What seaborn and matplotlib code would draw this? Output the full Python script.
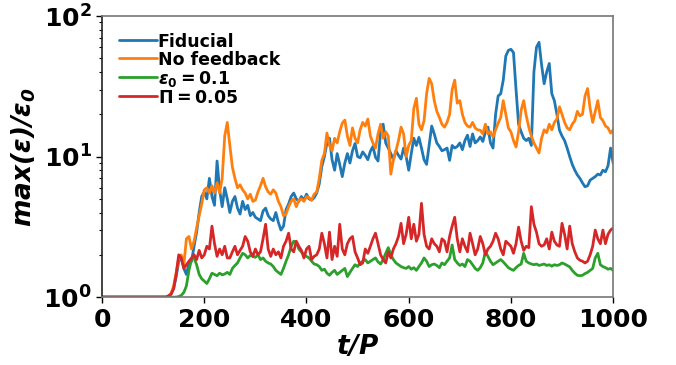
import numpy as np
import pandas as pd
import matplotlib
matplotlib.use("Agg")
import matplotlib.pyplot as plt
import seaborn as sns

# Time grid in orbital periods
t_quiet = [0, 5, 10, 15, 20, 25, 30, 35, 40, 45, 50, 55, 60, 65, 70, 75, 80, 85,
           90, 95, 100, 105, 110, 115, 120, 125]
t_active = list(range(130, 1001, 5))
t_over_p = t_quiet + t_active

quiet = [1.0] * len(t_quiet)

fiducial = quiet + [
    1.02, 1.05, 1.15, 1.4, 1.8, 1.9, 1.6, 1.45, 1.75, 1.8,
    2.3, 2.9, 4.0, 5.2, 5.6, 5.0, 7.0, 5.2, 4.5, 9.3,
    5.8, 4.4, 6.0, 5.0, 4.0, 4.8, 5.2, 4.3, 3.9, 4.8,
    4.2, 4.5, 3.8, 4.0, 3.7, 3.6, 3.5, 4.1, 4.3, 3.8,
    3.6, 3.5, 4.0, 3.4, 3.0, 3.2, 4.2, 4.6, 5.2, 5.5,
    5.0, 4.8, 5.2, 4.9, 5.4, 5.0, 4.9, 5.1, 5.5, 6.4,
    8.5, 10.0, 12.5, 13.5, 9.5, 8.0, 10.5, 8.8, 7.2, 9.0,
    10.5, 9.0, 11.0, 12.4, 10.0, 9.8, 10.8, 10.2, 9.5, 10.9,
    11.8, 9.9, 9.3, 15.0, 17.0, 12.5, 11.5, 10.5, 9.5, 11.0,
    10.2, 9.6, 11.5, 10.0, 8.0, 10.5, 13.5, 12.0, 13.7, 11.5,
    9.5, 8.8, 12.0, 16.5, 14.5, 12.5, 11.8, 11.0, 11.2, 11.5,
    9.4, 12.0, 11.5, 11.8, 12.5, 11.2, 13.0, 14.2, 11.8, 14.5,
    12.5, 13.0, 13.8, 12.8, 15.0, 16.2, 12.5, 11.5, 20.0, 27.0,
    28.0, 35.0, 52.0, 57.0, 58.0, 55.0, 30.0, 17.0, 15.0, 13.5,
    13.0, 13.5, 12.0, 40.0, 60.0, 65.0, 45.0, 33.0, 40.0, 46.0,
    28.0, 25.0, 20.0, 15.4, 14.0, 13.0, 11.5, 10.0, 8.8, 8.0,
    7.4, 7.0, 6.5, 6.1, 6.2, 6.8, 7.0, 7.2, 7.5, 7.4,
    8.0, 7.8, 8.6, 11.5, 9.0,
]

no_feedback = quiet + [
    1.02, 1.06, 1.2, 1.5, 1.9, 2.0, 1.7, 2.6, 2.7, 2.2,
    2.5, 3.1, 3.8, 4.6, 5.8, 6.0, 5.5, 6.2, 5.5, 6.5,
    5.5, 7.0, 14.0, 17.5, 12.0, 8.4, 7.0, 6.0, 6.3, 5.8,
    5.5, 5.0, 5.4, 4.8, 4.9, 5.6, 6.2, 7.0, 6.1, 5.6,
    5.4, 5.8, 5.5, 4.8, 4.4, 3.8, 3.9, 4.4, 4.8, 5.0,
    4.4, 4.9, 5.0, 4.8, 5.2, 5.1, 4.9, 5.4, 5.6, 7.0,
    9.4, 10.5, 14.7, 12.0, 11.0, 13.5, 12.5, 15.0, 17.3, 18.2,
    14.0, 12.0, 16.0, 13.5, 12.5, 15.5, 17.5, 16.5, 18.5, 14.0,
    12.5, 11.5, 14.5, 17.0, 13.5, 15.0, 14.0, 7.5, 9.5, 11.0,
    13.0, 16.2, 14.5, 10.0, 12.0, 13.0, 22.0, 26.0, 17.0, 15.5,
    18.0, 28.0, 36.0, 33.0, 25.0, 21.0, 19.0, 17.0, 16.2, 17.5,
    20.0, 30.0, 35.0, 24.0, 25.0, 20.0, 17.5, 16.5, 16.2, 17.5,
    16.0, 15.5, 15.4, 14.5, 17.0, 14.5, 15.0, 13.8, 15.5, 17.3,
    19.0, 25.0, 20.0, 16.0, 15.0, 13.0, 11.7, 15.0, 21.4, 25.0,
    19.5, 16.2, 14.0, 12.5, 11.5, 10.6, 13.5, 15.5, 14.8, 17.0,
    15.5, 17.5, 18.5, 22.6, 20.0, 17.5, 16.0, 15.5, 17.0, 18.0,
    21.0, 19.5, 20.0, 27.0, 30.5, 22.0, 17.5, 21.0, 25.0, 19.0,
    18.0, 16.5, 16.0, 14.7, 15.5,
]

eps0_01 = quiet + [
    1.0, 1.0, 1.0, 1.0, 1.01, 1.03, 1.08, 1.2, 1.55, 1.85,
    1.9, 1.7, 1.45, 1.35, 1.3, 1.25, 1.35, 1.48, 1.45, 1.42,
    1.48, 1.44, 1.46, 1.5, 1.45, 1.6, 1.68, 1.75, 1.9, 2.05,
    2.0, 1.9, 1.98, 1.95, 1.92, 2.0, 1.85, 1.9, 1.8, 1.75,
    1.72, 1.65, 1.55, 1.5, 1.45, 1.6, 1.8, 2.0, 2.3, 2.5,
    2.45, 2.2, 2.1, 2.0, 1.95, 1.9, 1.8, 1.72, 1.7, 1.65,
    1.55, 1.58, 1.48, 1.43, 1.5, 1.55, 1.45, 1.5, 1.55, 1.6,
    1.4, 1.5, 1.6, 1.7, 1.65, 1.75, 1.8, 1.85, 1.75, 1.8,
    1.85, 1.9, 1.78, 1.72, 1.85, 2.05, 2.25, 2.0, 1.85, 1.75,
    1.7, 1.65, 1.62, 1.6, 1.65, 1.58, 1.62, 1.55, 1.65, 1.75,
    1.9, 1.8, 1.65, 1.7, 1.72, 1.68, 1.62, 1.75, 1.7, 1.8,
    1.9, 2.35, 1.85, 1.75, 1.68, 1.72, 1.65, 1.85, 1.8, 1.7,
    1.6, 1.55, 1.62, 1.75, 2.1, 1.95, 1.8, 1.7, 1.75, 1.8,
    1.85, 1.78, 1.7, 1.62, 1.58, 1.55, 1.62, 1.68, 1.72, 2.05,
    1.8, 1.75, 1.72, 1.7, 1.72, 1.68, 1.7, 1.72, 1.68, 1.7,
    1.66, 1.7, 1.68, 1.7, 1.75, 1.72, 1.68, 1.64, 1.55, 1.48,
    1.43, 1.42, 1.43, 1.47, 1.5, 1.55, 1.6, 1.9, 2.05, 1.7,
    1.65, 1.62, 1.58, 1.6, 1.55,
]

pi_005 = quiet + [
    1.02, 1.05, 1.15, 1.45, 2.0, 1.9, 1.6, 1.7, 1.8, 1.9,
    2.0, 1.85, 2.15, 1.9, 2.0, 2.3, 2.2, 3.2, 2.4, 1.95,
    2.2, 2.0, 2.3, 1.9, 1.9, 2.1, 2.3, 2.0, 2.15, 2.3,
    2.7, 2.5, 2.1, 1.95, 2.2, 2.0, 2.1, 2.6, 3.3, 2.2,
    1.95, 2.2, 2.0, 2.1, 1.9, 2.3, 2.5, 2.85, 2.2, 2.1,
    2.5, 2.3, 2.15, 1.9, 2.2, 2.3, 1.85, 1.95, 2.0, 2.2,
    2.85, 2.4, 1.9, 2.9, 1.85, 2.3, 1.95, 3.3, 2.2, 2.0,
    2.4, 2.6, 2.7, 2.1, 1.9, 1.7, 1.75, 2.2, 2.05, 2.3,
    2.6, 2.85, 2.4, 2.0, 1.85, 1.75, 2.1, 1.9, 2.2, 2.4,
    2.7, 3.35, 2.4, 2.8, 3.7, 2.6, 3.3, 2.5, 2.8, 4.65,
    2.8, 2.3, 2.2, 2.6, 2.4, 2.3, 2.1, 2.6, 2.5, 2.1,
    2.7, 3.2, 3.7, 2.6, 2.1, 2.6, 2.3, 2.1, 2.85, 2.4,
    2.0, 2.2, 2.7, 2.4, 2.0, 2.2, 2.3, 2.5, 2.85, 2.6,
    2.2, 2.0, 2.5, 2.4, 2.3, 2.05, 2.4, 3.15, 2.5, 2.15,
    2.3, 2.25, 4.4, 3.3, 2.9, 2.4, 2.3, 2.35, 2.6, 2.2,
    2.9, 2.5, 2.35, 2.3, 3.35, 2.8, 2.2, 3.2, 2.4, 2.1,
    1.9, 1.83, 1.8, 1.75, 1.8, 2.0, 2.3, 3.0, 2.6, 2.4,
    3.0, 2.4, 2.8, 3.0, 3.1,
]

run_names = ["Fiducial", "No feedback", r"$\mathbfit{\epsilon}_{0} = 0.1$",
             r"$\Pi = 0.05$"]
run_values = [fiducial, no_feedback, eps0_01, pi_005]

frames = []
for name, vals in zip(run_names, run_values):
    frames.append(pd.DataFrame({"t": t_over_p, "eps": vals, "run": name}))
df = pd.concat(frames, ignore_index=True)

sns.set_theme(style="ticks")
plt.rcParams["font.family"] = ["DejaVu Sans"]
plt.rcParams["font.weight"] = "bold"
plt.rcParams["mathtext.default"] = "bf"
plt.rcParams["text.color"] = "black"
plt.rcParams["axes.labelcolor"] = "black"
plt.rcParams["xtick.color"] = "black"
plt.rcParams["ytick.color"] = "black"

palette = ["#1f77b4", "#ff7f0e", "#2ca02c", "#d62728"]

fig = plt.figure(figsize=(6.76, 3.65), dpi=100)
ax = fig.add_axes([0.151, 0.186, 0.756, 0.770])

sns.lineplot(data=df, x="t", y="eps", hue="run", hue_order=run_names,
             palette=palette, linewidth=2.0, ax=ax, legend=True)

ax.set_yscale("log")
ax.set_xlim(0, 1000)
ax.set_ylim(1, 100)
ax.set_xticks([0, 200, 400, 600, 800, 1000])
ax.tick_params(axis="both", which="major", labelsize=18, length=4, width=1)
ax.tick_params(axis="y", which="minor", length=2, width=0.8)
for lbl in ax.get_xticklabels() + ax.get_yticklabels():
    lbl.set_fontweight("bold")

ax.set_xlabel(r"$\mathbfit{t/P}$", fontsize=19, labelpad=2, color="black")
ax.set_ylabel(r"$\mathbfit{max(\epsilon)/\epsilon_0}$", fontsize=19, labelpad=4,
              color="black")

for side in ["top", "right", "bottom"]:
    ax.spines[side].set_color("#777777")
ax.spines["left"].set_color("#222222")
for side in ax.spines:
    ax.spines[side].set_linewidth(1.2)

leg = ax.legend(loc="upper left", frameon=False,
                handlelength=2.2, handletextpad=0.05, labelspacing=0.0,
                borderaxespad=0.55, prop={"weight": "bold", "size": 12.5})
for h in leg.get_lines():
    h.set_linewidth(2.0)

fig.savefig("out.png", dpi=100)
